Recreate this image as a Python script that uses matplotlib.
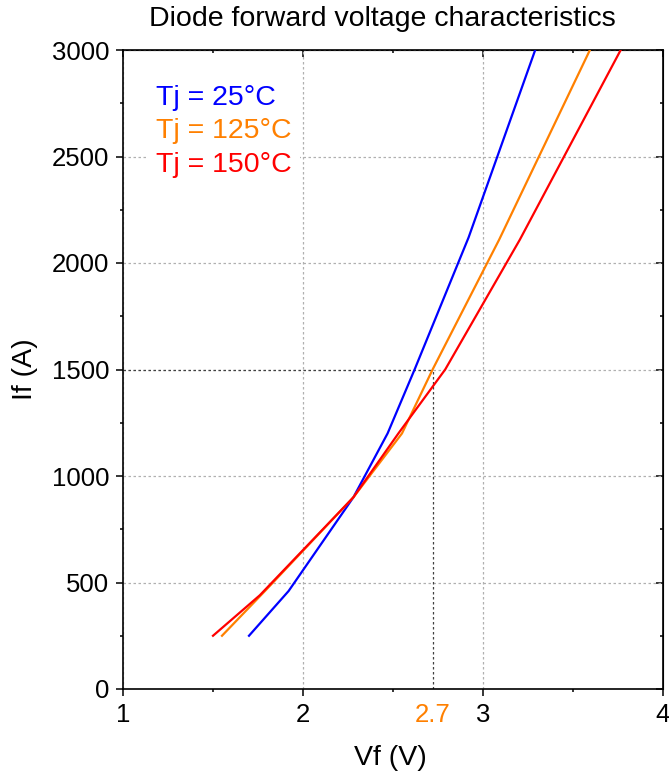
import matplotlib
matplotlib.use('Agg')
import matplotlib.pyplot as plt
import matplotlib.transforms as mtransforms
from matplotlib.ticker import MultipleLocator

plt.rcParams['font.family'] = ['Liberation Sans', 'DejaVu Sans']

# ----------------------------------------------------------------------
# Data (Vf in V, If in A)
# ----------------------------------------------------------------------
vf_25  = [1.70, 1.92, 2.28, 2.47, 2.62, 2.92, 3.29]
if_25  = [250,  460,  900,  1200, 1500, 2120, 3000]

vf_125 = [1.55, 1.80, 2.28, 2.55, 2.72, 3.09, 3.594]
if_125 = [250,  470,  900,  1200, 1500, 2110, 3000]

vf_150 = [1.50, 1.76, 2.28, 2.53, 2.79, 3.205, 3.765]
if_150 = [250,  440,  900,  1200, 1500, 2110, 3000]

labels = ['Tj = 25°C', 'Tj = 125°C', 'Tj = 150°C']
colors = ['#0000ff', '#ff8000', '#ff0000']

vf_mark = 2.72      # orange curve at 1500 A
if_mark = 1500
mark_label = '2.7'

# ----------------------------------------------------------------------
fig = plt.figure(figsize=(6.69, 7.78), dpi=100)
ax = fig.add_axes([123/669, 89/778, 540/669, 639/778])

for vf, i_f, lab, c in zip([vf_25, vf_125, vf_150], [if_25, if_125, if_150],
                           labels, colors):
    ax.plot(vf, i_f, color=c, linewidth=1.6, label=lab, zorder=3)

# marker lines at the 1500 A operating point
ax.plot([1, vf_mark], [if_mark, if_mark], color='#404040', linewidth=0.9,
        linestyle=(0, (2, 2)), zorder=2)
ax.plot([vf_mark, vf_mark], [0, if_mark], color='#404040', linewidth=0.9,
        linestyle=(0, (2, 2)), zorder=2)

ax.set_xlim(1, 4)
ax.set_ylim(0, 3000)
ax.xaxis.set_major_locator(MultipleLocator(1))
ax.xaxis.set_minor_locator(MultipleLocator(0.5))
ax.yaxis.set_major_locator(MultipleLocator(500))
ax.yaxis.set_minor_locator(MultipleLocator(250))
ax.grid(True, which='major', color='#b0b0b0', linestyle=(0, (2, 2)),
        linewidth=0.9, zorder=1)
ax.set_axisbelow(True)

ax.tick_params(which='both', direction='out', labelsize=18.5, width=1.1)
ax.tick_params(which='major', length=5)
ax.tick_params(which='minor', length=2.5)
ax.tick_params(axis='x', pad=5)
ax.tick_params(axis='y', pad=5)

for s in ax.spines.values():
    s.set_linewidth(1.2)

top = ax.secondary_xaxis('top')
top.xaxis.set_major_locator(MultipleLocator(1))
top.xaxis.set_minor_locator(MultipleLocator(0.5))
top.tick_params(which='both', direction='in', labeltop=False, width=1.1)
top.tick_params(which='major', length=5)
top.tick_params(which='minor', length=2.5)
right = ax.secondary_yaxis('right')
right.yaxis.set_major_locator(MultipleLocator(500))
right.yaxis.set_minor_locator(MultipleLocator(250))
right.tick_params(which='both', direction='in', labelright=False, width=1.1)
right.tick_params(which='major', length=5)
right.tick_params(which='minor', length=2.5)

# extra orange tick label under the marker
trans = mtransforms.blended_transform_factory(ax.transData, ax.transAxes)
ax.text(vf_mark, -0.041, mark_label, transform=trans, color=colors[1],
        fontsize=18.5, ha='center', va='center')

ax.set_xlabel('Vf (V)', fontsize=20.5)
ax.set_ylabel('If (A)', fontsize=20.5)
ax.xaxis.set_label_coords(0.495, -0.087)
ax.yaxis.set_label_coords(-0.157, 0.5)

leg = ax.legend(loc='upper left', bbox_to_anchor=(0.019, 0.981),
                handlelength=0, handletextpad=0, labelcolor='linecolor',
                fontsize=20.5, frameon=True, fancybox=False,
                edgecolor='none', framealpha=1, labelspacing=0.26,
                borderpad=0.3)
for h in leg.legend_handles:
    h.set_visible(False)

fig.text(382/669, 1 - 19/778, 'Diode forward voltage characteristics',
         fontsize=20.5, ha='center', va='center')

fig.savefig('out.png', dpi=100)
